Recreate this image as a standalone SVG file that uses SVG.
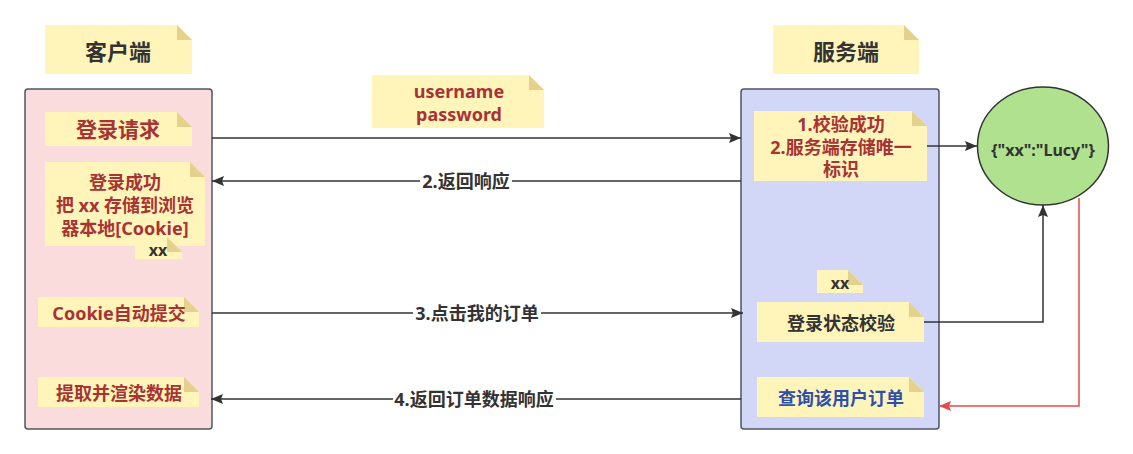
<svg xmlns="http://www.w3.org/2000/svg" width="1133" height="454" viewBox="0 0 1133 454">
<style>
text{font-family:"Noto Sans","Noto Sans CJK SC",sans-serif;font-weight:bold;text-anchor:middle;dominant-baseline:central}
.note{fill:#fff5bb}
.fold{fill:#e5d08c}
.red{fill:#a83333;font-size:18px}
.dark{fill:#333333;font-size:18px}
.title{fill:#333333;font-size:22px}
.blue{fill:#2f4fae;font-size:18px}
.box{stroke:#4d5564;stroke-width:1.5}
.ln{fill:none;stroke:#333333;stroke-width:1.5}
.lbl{fill:#ffffff}
</style>
<defs>
<marker id="ah" markerWidth="12" markerHeight="10" refX="12" refY="5" orient="auto" markerUnits="userSpaceOnUse">
<path d="M0,0 L12,5 L0,10 L2,5 Z" fill="#333333"/>
</marker>
<marker id="ahr" markerWidth="12" markerHeight="10" refX="12" refY="5" orient="auto" markerUnits="userSpaceOnUse">
<path d="M0,0 L12,5 L0,10 L2,5 Z" fill="#e84a4a"/>
</marker>
</defs>
<rect width="1133" height="454" fill="#ffffff"/>

<g id="client-title">
<path class="note" d="M45,25 H177 L192,40 V74 H45 Z"/>
<path class="fold" d="M177,25 V40 H192 Z"/>
<text class="title" x="118" y="51">客户端</text>
</g>
<g id="server-title">
<path class="note" d="M773,25 H904 L919,40 V74 H773 Z"/>
<path class="fold" d="M904,25 V40 H919 Z"/>
<text class="title" x="846" y="51">服务端</text>
</g>

<g id="client">
<rect class="box" x="25" y="89" width="187" height="340" rx="3" fill="#fadcdc"/>
</g>
<g id="server">
<rect class="box" x="741" y="89" width="198" height="340" rx="3" fill="#d3d7f7"/>
</g>

<g id="login-request">
<path class="note" d="M45,112 H177 L192,127 V146 H45 Z"/>
<path class="fold" d="M177,112 V127 H192 Z"/>
<text class="red" x="118" y="129" style="font-size:21px">登录请求</text>
</g>

<g id="login-success">
<path class="note" d="M45,162 H190 L205,177 V246 H45 Z"/>
<path class="fold" d="M190,162 V177 H205 Z"/>
<text class="red" x="125" y="182">登录成功</text>
<text class="red" x="125" y="205">把 xx 存储到浏览</text>
<text class="red" x="125" y="228">器本地[Cookie]</text>
</g>
<g id="client-xx">
<path class="note" d="M135,237 H167 L182,252 V259 H135 Z"/>
<path class="fold" d="M167,237 V252 H182 Z"/>
<text class="dark" x="158" y="250" style="font-size:16px">xx</text>
</g>

<g id="cookie-submit">
<path class="note" d="M38,297 H184 L199,312 V327 H38 Z"/>
<path class="fold" d="M184,297 V312 H199 Z"/>
<text class="red" x="119" y="313">Cookie自动提交</text>
</g>
<g id="render-data">
<path class="note" d="M38,377 H184 L199,392 V407 H38 Z"/>
<path class="fold" d="M184,377 V392 H199 Z"/>
<text class="red" x="119" y="393">提取并渲染数据</text>
</g>

<g id="credentials">
<path class="note" d="M372,75 H529 L544,90 V128 H372 Z"/>
<path class="fold" d="M529,75 V90 H544 Z"/>
<text class="red" x="459" y="91">username</text>
<text class="red" x="459" y="114">password</text>
</g>

<g id="verify">
<path class="note" d="M754,111 H912 L927,126 V181 H754 Z"/>
<path class="fold" d="M912,111 V126 H927 Z"/>
<text class="red" x="841" y="124">1.校验成功</text>
<text class="red" x="841" y="147">2.服务端存储唯一</text>
<text class="red" x="841" y="169">标识</text>
</g>

<g id="store">
<ellipse cx="1043" cy="146" rx="65.5" ry="59" fill="#b0e18f" stroke="#333333" stroke-width="1.5"/>
<text class="dark" x="1043" y="150" style="font-size:16px">{"xx":"Lucy"}</text>
</g>

<g id="server-xx">
<path class="note" d="M817,270 H848 L863,285 V293 H817 Z"/>
<path class="fold" d="M848,270 V285 H863 Z"/>
<text class="dark" x="840" y="283" style="font-size:16px">xx</text>
</g>

<g id="login-check">
<path class="note" d="M757,302 H909 L924,317 V342 H757 Z"/>
<path class="fold" d="M909,302 V317 H924 Z"/>
<text class="dark" x="841" y="323">登录状态校验</text>
</g>

<g id="query-order">
<path class="note" d="M757,377 H909 L924,392 V417 H757 Z"/>
<path class="fold" d="M909,377 V392 H924 Z"/>
<text class="blue" x="841" y="398">查询该用户订单</text>
</g>

<g id="connectors">
<line class="ln" x1="212" y1="138" x2="741" y2="138" marker-end="url(#ah)"/>
<line class="ln" x1="741" y1="181" x2="212" y2="181" marker-end="url(#ah)"/>
<rect class="lbl" x="420" y="170" width="92" height="22"/>
<text class="dark" x="466" y="181">2.返回响应</text>
<line class="ln" x1="212" y1="313" x2="743" y2="313" marker-end="url(#ah)"/>
<rect class="lbl" x="413" y="302" width="128" height="22"/>
<text class="dark" x="477" y="313">3.点击我的订单</text>
<line class="ln" x1="741" y1="399" x2="211" y2="399" marker-end="url(#ah)"/>
<rect class="lbl" x="393" y="388" width="163" height="22"/>
<text class="dark" x="474" y="399">4.返回订单数据响应</text>
<line class="ln" x1="927" y1="146" x2="977" y2="146" marker-end="url(#ah)"/>
<polyline class="ln" points="924,322 1043,322 1043,205" marker-end="url(#ah)"/>
<polyline points="1079,198 1079,406 939,406" fill="none" stroke="#e84a4a" stroke-width="1.5" marker-end="url(#ahr)"/>
</g>
</svg>
